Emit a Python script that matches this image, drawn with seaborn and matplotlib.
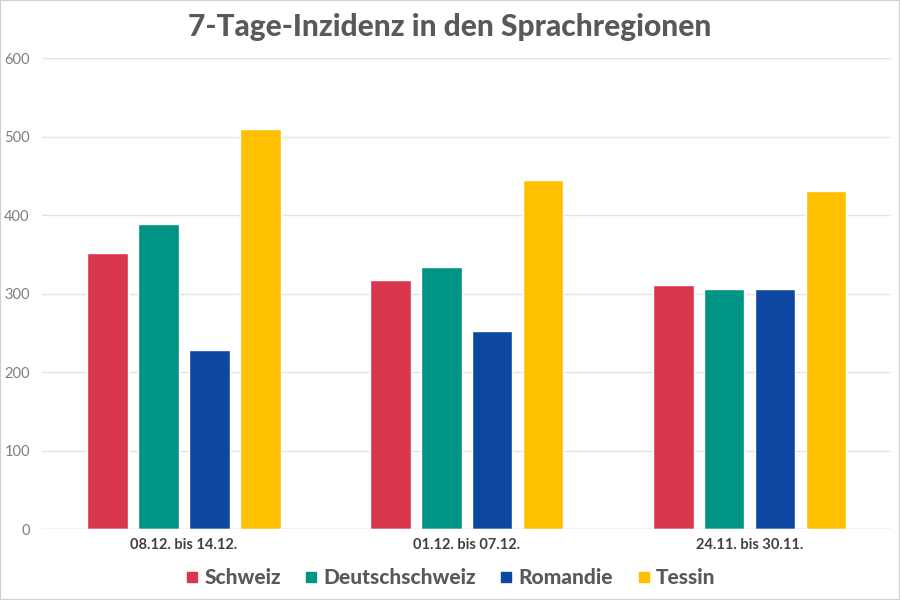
import pandas as pd
import seaborn as sns
import matplotlib.pyplot as plt
from matplotlib.patches import Rectangle

# data
weeks = ["08.12. bis 14.12.", "01.12. bis 07.12.", "24.11. bis 30.11."]
regions = ["Schweiz", "Deutschschweiz", "Romandie", "Tessin"]
schweiz = [352, 317, 311]
deutschschweiz = [389, 334, 306]
romandie = [228, 252, 306]
tessin = [510, 445, 431]
colors = ["#D7364C", "#009485", "#0D47A1", "#FFC000"]

df = pd.DataFrame({"Woche": weeks, "Schweiz": schweiz, "Deutschschweiz": deutschschweiz,
                   "Romandie": romandie, "Tessin": tessin})
df = df.melt(id_vars="Woche", var_name="Region", value_name="Inzidenz")

sns.set_style("white")
plt.rcParams['font.family'] = ['Lato', 'DejaVu Sans']

fig = plt.figure(figsize=(9, 6), dpi=100)
ax = fig.add_axes([0.047, 0.118, 0.943, 0.785])
sns.barplot(data=df, x="Woche", y="Inzidenz", hue="Region", hue_order=regions,
            palette=colors, width=0.72, gap=0.2, saturation=1, ax=ax)

ax.set_ylim(0, 600)
ax.set_yticks(range(0, 601, 100))
ax.set_xlim(-0.5, 2.5)
ax.grid(axis="y", color="#E4E4E4", linewidth=1)
ax.set_axisbelow(True)
for s in ax.spines.values():
    s.set_visible(False)
ax.axhline(0, color="#D9D9D9", linewidth=1)
ax.tick_params(axis="both", length=0)
ax.tick_params(axis="y", labelsize=10.5, labelcolor="#7F7F7F", pad=9)
ax.tick_params(axis="x", labelsize=10.5, labelcolor="#404040", pad=6)
for t in ax.get_xticklabels():
    t.set_fontweight("bold")
ax.set_xlabel("")
ax.set_ylabel("")

fig.suptitle("7-Tage-Inzidenz in den Sprachregionen", x=0.5, y=0.978,
             fontsize=21.5, fontweight=900, color="#595959")

ax.legend_.remove()
handles = [plt.Line2D([], [], marker="s", linestyle="", markersize=7.5, color=c) for c in colors]
fig.legend(handles, regions, loc="lower center", bbox_to_anchor=(0.5, -0.01), ncol=4,
           frameon=False, prop={"weight": 900, "size": 15}, labelcolor="#595959",
           handlelength=0.7, handletextpad=0.25, columnspacing=1.1)

fig.patches.append(Rectangle((0, 0), 1, 1, transform=fig.transFigure, fill=False,
                             edgecolor="#CFCFCF", linewidth=1.5))

fig.savefig("out.png", dpi=100)
